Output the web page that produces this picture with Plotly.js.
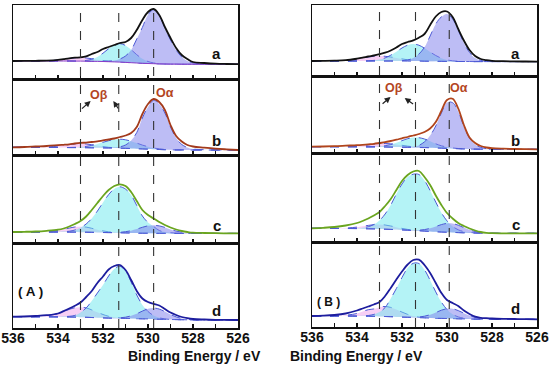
<!DOCTYPE html>
<html>
<head>
<meta charset="utf-8">
<script src="https://cdn.plot.ly/plotly-3.0.1.min.js"></script>
<style>html,body{margin:0;padding:0;background:#fff}#chart{width:550px;height:365px}</style>
</head>
<body>
<div id="chart"></div>
<script>
// Binding energy grid (eV)
const energy = [536,535.5,535,534.5,534,533.75,533.5,533.25,533,532.75,532.5,532.25,532,531.75,531.5,531.25,531,530.75,530.5,530.25,530,529.75,529.5,529.25,529,528.75,528.5,528.25,528,527.5,527,526.5,526];

// ---- Panel (A) ----
const rawAa  = [18,18.1,18.2,18.4,19.1,19.9,20.7,21.3,21.6,22.6,25,27,30,32,34,36,37,41,49,59,67,70,64,52,41,31,24,20,17,16,15.3,15,14.8];
const baseAa = [18,18,18,18,18,18,18,17.9,17.9,17.8,17.7,17.6,17.5,17.3,17.1,16.9,16.6,16.3,16,15.7,15.5,15.3,15.1,15,14.9,14.9,14.8,14.8,14.8,14.8,14.8,14.8,14.8];
const pinkAa = [18,18,18,18.2,19,19.75,20.6,21.1,21.4,21,20.3,19.35,18.5,17.8,17.3,17,16.6,16.3,16,15.7,15.5,15.3,15.1,15,14.9,14.9,14.8,14.8,14.8,14.8,14.8,14.8,14.8];
const cyanAa = [18,18,18,18,18,18,18,18,18.1,18.6,19.7,22.1,25.8,30.3,34,35.4,33.5,29.3,24.3,20.2,17.5,16.1,15.3,15,14.9,14.9,14.8,14.8,14.8,14.8,14.8,14.8,14.8];
const lavAa  = [18,18,18,18,18,18,18,17.9,17.9,17.8,17.7,17.6,17.6,17.8,18.5,20,23,29,40,51.6,64.3,69.3,63.9,50.9,39,29,22,18,16.2,15.2,14.9,14.8,14.8];

const rawAb  = [7.7,8,8.5,9,9.8,10.2,10.7,11.5,12.1,12.4,13,13.6,14.6,15.5,16.5,18,19.5,22,28,41,51,56,53,45,30,19,13.5,10,8.5,7.3,6.3,5.6,5];
const baseAb = [7.7,7.7,7.6,7.6,7.5,7.5,7.4,7.4,7.3,7.3,7.2,7.2,7.1,7,6.9,6.8,6.7,6.5,6.3,6.1,5.9,5.7,5.5,5.3,5.2,5.1,5.1,5,5,5,5,5,5];
const pinkAb = [7.7,7.7,7.65,8,8.9,9.7,10.5,11.1,11.3,11,10.3,9.4,8.5,7.7,7.3,6.9,6.7,6.5,6.3,6.1,5.9,5.7,5.5,5.3,5.2,5.1,5.1,5,5,5,5,5,5];
const cyanAb = [7.7,7.7,7.6,7.6,7.5,7.5,7.5,7.7,8,8.6,9.6,11,12.7,14.3,15.4,15.8,15.2,13.8,11.9,9.9,8.3,7,6.2,5.6,5.3,5.1,5.1,5,5,5,5,5,5];
const lavAb  = [7.7,7.7,7.6,7.6,7.5,7.5,7.4,7.4,7.3,7.3,7.2,7.2,7.1,7.1,7.4,8.2,10,14.5,22.5,37,48,54.7,51,42,28,17,10.5,7.5,6,5.3,5.1,5,5];

const rawAc  = [11,11.2,11.5,12.2,13.3,14.5,16.5,19,22,26.5,33,40,47,53,57,58.7,57,51,42,33,28,24.5,21,18,15.5,13.5,12,11,10.3,10,9.8,9.7,9.6];
const baseAc = [11,11,11,11,11,11,10.9,10.9,10.8,10.8,10.7,10.6,10.5,10.4,10.3,10.2,10.1,10,9.9,9.8,9.8,9.7,9.7,9.7,9.6,9.6,9.6,9.6,9.6,9.6,9.6,9.6,9.6];
const pinkAc = [11,11,11,11.3,12.6,13.75,14.9,16,16.3,15.9,14.7,13.35,12.1,11.2,10.6,10.3,10.1,10,9.9,9.8,9.8,9.7,9.7,9.7,9.6,9.6,9.6,9.6,9.6,9.6,9.6,9.6,9.6];
const cyanAc = [11,11,11,11,11.1,11.4,11.8,13,15.2,19,24.5,31.9,40.4,48.4,54.1,56.2,53.9,48,37.5,27,20.5,16.5,12.5,11,10.3,9.9,9.7,9.6,9.6,9.6,9.6,9.6,9.6];
const lavAc  = [11,11,11,11,11,11,10.9,10.9,10.8,10.8,10.7,10.6,10.5,10.4,10.5,10.7,11.3,12.3,13.9,15.7,17.2,17.7,17.1,15.6,13.6,11.9,10.8,10.1,9.8,9.6,9.6,9.6,9.6];

const rawAd  = [11.3,11.5,12,12.8,14.5,16.9,19.5,22.3,25.5,31,37,45,51.5,58.5,62,63,58,48,37,29.5,26,24.2,22.5,19,15.5,13,11,9.8,9,8.5,8.2,8.1,8];
const baseAd = [11.3,11.3,11.2,11.2,11.1,11.1,11,10.9,10.8,10.7,10.5,10.3,10.1,9.9,9.8,9.7,9.6,9.5,9.3,9.2,9.1,9,8.8,8.7,8.5,8.4,8.3,8.2,8.1,8.1,8,8,8];
const pinkAd = [11.3,11.3,11.3,12.1,14.5,16.5,18.6,20.25,20.8,20.05,18.1,15.7,13.5,11.7,10.7,10.1,9.7,9.5,9.3,9.2,9.1,9,8.8,8.7,8.5,8.4,8.3,8.2,8.1,8.1,8,8,8];
const cyanAd = [11.3,11.3,11.2,11.2,11.1,11.4,11.7,12.6,15.5,20,27,35,43,52,59.1,61.7,57,46,33,23,16.5,12.5,10.2,9.1,8.6,8.4,8.3,8.2,8.1,8.1,8,8,8];
const lavAd  = [11.3,11.3,11.2,11.2,11.1,11.1,11,10.9,10.8,10.7,10.5,10.3,10.1,9.9,9.9,10.2,10.8,12.2,14.3,16.9,19.2,20,18.9,16.4,13.5,11.1,9.5,8.7,8.2,8.1,8,8,8];

// ---- Panel (B) ----
const rawBa  = [15,15.1,15.3,15.8,17.3,18.3,19.5,20.5,21.8,23.3,25.5,28.5,32,34,35.6,38.3,42,51,59.5,64,64.5,59,47,35.5,26,20,17,15.8,15.2,14.8,14.6,14.5,14.4];
const baseBa = [15,15,15,15,15,15,15,15,15,15,15,15,15,14.9,14.9,14.9,14.8,14.8,14.7,14.7,14.6,14.6,14.5,14.5,14.5,14.4,14.4,14.4,14.4,14.4,14.4,14.4,14.4];
const pinkBa = [15,15,15.2,15.7,17.1,18.1,19,19.7,20,19.7,19,18.1,17.1,16.2,15.6,15.3,15,14.9,14.7,14.7,14.6,14.6,14.5,14.5,14.5,14.4,14.4,14.4,14.4,14.4,14.4,14.4,14.4];
const cyanBa = [15,15,15,15,15,15,15.2,15.6,16.5,18.1,20.8,24.2,28,30.8,31.9,30.8,27.8,24,20.5,17.8,16.1,15.2,14.7,14.5,14.5,14.4,14.4,14.4,14.4,14.4,14.4,14.4,14.4];
const lavBa  = [15,15,15,15,15,15,15,15,15,15,15,15,15.35,16,17.9,21.9,28.8,40,52,59.1,62,57,45.7,33.2,23.6,18,15.6,14.7,14.5,14.4,14.4,14.4,14.4];

const rawBb  = [6.3,6.5,6.8,7.3,7.8,8.2,8.7,9.2,10,10.8,12,13.3,14.7,16,17.5,19,21,24.5,31,42,53,54.3,44.5,28,15.5,10,7,5.5,4.8,4.3,4,3.8,3.7];
const baseBb = [6.3,6.3,6.3,6.2,6.2,6.2,6.1,6.1,6,6,5.9,5.9,5.8,5.7,5.6,5.5,5.4,5.3,5.1,4.9,4.7,4.5,4.3,4.1,4,3.9,3.8,3.8,3.7,3.7,3.7,3.7,3.7];
const pinkBb = [6.3,6.3,6.3,6.33,6.84,7.39,8,8.77,9.27,9.5,9.17,8.57,7.7,6.89,6.24,5.8,5.53,5.3,5.1,4.9,4.7,4.5,4.3,4.1,4,3.9,3.8,3.8,3.7,3.7,3.7,3.7,3.7];
const cyanBb = [6.3,6.3,6.3,6.2,6.2,6.2,6.2,6.3,6.6,7.3,8.4,10.3,12.35,14.3,15.4,15.3,14,11.85,9.2,7.2,6,5.1,4.5,4.2,4,3.9,3.8,3.8,3.7,3.7,3.7,3.7,3.7];
const lavBb  = [6.3,6.3,6.3,6.2,6.2,6.2,6.1,6.1,6,6,5.9,5.9,5.8,5.85,6.24,7.6,11.2,17.5,27,40,50.5,50.3,41.6,26.5,15,8.5,5.6,4.4,3.85,3.7,3.7,3.7,3.7];

const rawBc  = [13.7,14.2,15,16.5,19,21,23.5,26.5,30,36,43,52,61,67,70.5,71,65,57,46.5,37,29,23.5,19,16,13.5,11.5,10,9.2,8.8,8.7,8.7,8.7,8.7];
const baseBc = [13.7,13.7,13.6,13.5,13.4,13.3,13.2,13.1,13,12.8,12.6,12.4,12.1,11.8,11.5,11.2,10.9,10.6,10.3,10,9.8,9.6,9.4,9.2,9.1,9,8.9,8.8,8.7,8.7,8.7,8.7,8.7];
const pinkBc = [13.7,13.7,13.66,13.9,14.9,15.75,16.6,17.3,17.5,17,16,14.85,13.6,12.6,11.9,11.36,10.96,10.6,10.3,10,9.8,9.6,9.4,9.2,9.1,9,8.9,8.8,8.7,8.7,8.7,8.7,8.7];
const cyanBc = [13.7,13.7,13.6,13.6,13.8,14.2,15.3,17.5,21.5,28,37,48,58,65,67.8,67.5,61.5,51.4,39.9,29.3,21.1,15.5,12.2,10.4,9.56,9.17,8.95,8.8,8.7,8.7,8.7,8.7,8.7];
const lavBc  = [13.7,13.7,13.6,13.5,13.4,13.3,13.2,13.1,13,12.8,12.6,12.4,12.1,11.86,11.7,11.8,12.4,13.65,15.5,17.4,18.6,18.4,16.8,14.4,12.15,10.5,9.5,9,8.75,8.7,8.7,8.7,8.7];

const rawBd  = [11,11.3,12,13.5,16.5,18.5,20.5,22.5,25,31,39,47.5,55.5,62.5,67,67.3,62,54,44,34,27,24,21,16.5,13,10.3,9.2,8.8,8.5,8.2,8,7.8,7.7];
const baseBd = [11,11,11,11,10.9,10.9,10.8,10.7,10.6,10.5,10.3,10.1,9.9,9.7,9.5,9.3,9.1,8.9,8.7,8.6,8.5,8.4,8.2,8.1,8,7.9,7.9,7.8,7.8,7.7,7.7,7.7,7.7];
const pinkBd = [11,11,11.2,11.8,13.5,15.5,17.3,18.05,19.86,20.5,19.56,17.45,14.9,12.62,10.96,9.93,9.33,8.97,8.7,8.6,8.5,8.4,8.2,8.1,8,7.9,7.9,7.8,7.8,7.7,7.7,7.7,7.7];
const cyanBd = [11,11,11,11,10.9,11.14,11.5,12.6,14.9,19.5,28.5,38.5,49.5,59,63.7,63.5,57.2,46.7,35.1,24.9,17.5,12.7,10.1,8.8,8.24,7.9,7.9,7.8,7.8,7.7,7.7,7.7,7.7];
const lavBd  = [11,11,11,11,10.9,10.9,10.8,10.7,10.6,10.5,10.3,10.1,9.9,9.77,9.74,10,10.8,12.3,14.45,16.8,18.3,18.2,16.4,13.85,11.4,9.57,8.6,8.04,7.87,7.7,7.7,7.7,7.7];

// Reference peak positions (dashed lines), eV
const linesA = [533.0, 531.3, 529.75];
const linesB = [533.0, 531.4, 529.9];

const panelLetters = ['a','b','c','d'];
const xTickVals = [536,534,532,530,528,526];
const xTickLabels = ['536','534','532','530','528','526'];

// ---------- drawing ----------
const FONT = 'Liberation Sans, Arial, Helvetica, sans-serif';
const OUTLINE = '#4d5ad6';
const PINK = 'rgba(236,140,230,0.42)';
const CYAN = 'rgba(105,232,238,0.5)';
const LAV  = 'rgba(128,128,236,0.52)';

const panels = [
  {raw: rawAa, base: baseAa, pink: pinkAa, cyan: cyanAa, lav: lavAa, color: '#111111', baseColor: '#8a3cc8', baseDash: 'solid'},
  {raw: rawAb, base: baseAb, pink: pinkAb, cyan: cyanAb, lav: lavAb, color: '#a33a1c'},
  {raw: rawAc, base: baseAc, pink: pinkAc, cyan: cyanAc, lav: lavAc, color: '#6aa51f'},
  {raw: rawAd, base: baseAd, pink: pinkAd, cyan: cyanAd, lav: lavAd, color: '#1d1d9e'},
  {raw: rawBa, base: baseBa, pink: pinkBa, cyan: cyanBa, lav: lavBa, color: '#111111'},
  {raw: rawBb, base: baseBb, pink: pinkBb, cyan: cyanBb, lav: lavBb, color: '#b0441c'},
  {raw: rawBc, base: baseBc, pink: pinkBc, cyan: cyanBc, lav: lavBc, color: '#6aa51f'},
  {raw: rawBd, base: baseBd, pink: pinkBd, cyan: cyanBd, lav: lavBd, color: '#1d1d9e'}
];

// panel boxes in pixels: [top, bottom]
const W = 550, H = 365;
const boxesA = [[5,79],[79,155],[155,243],[243,328]];
const boxesB = [[5,76],[76,153],[153,242],[242,327]];
const colA = [13, 238], colB = [312, 537];

const traces = [];
const layout = {
  width: W, height: H,
  margin: {l:0, r:0, t:0, b:0},
  paper_bgcolor: '#fff', plot_bgcolor: 'rgba(0,0,0,0)',
  showlegend: false,
  font: {family: FONT, color: '#111'},
  annotations: [], shapes: []
};

panels.forEach((p, i) => {
  const n = i + 1;
  const xs = n === 1 ? 'x' : 'x' + n;
  const ys = n === 1 ? 'y' : 'y' + n;
  const isA = i < 4;
  const box = isA ? boxesA[i] : boxesB[i - 4];
  const col = isA ? colA : colB;
  const hgt = box[1] - box[0];

  [[p.pink, PINK], [p.cyan, CYAN], [p.lav, LAV]].forEach(([arr, fc]) => {
    traces.push({x: energy, y: p.base, xaxis: xs, yaxis: ys, mode: 'lines',
      line: {width: 0, shape: 'spline', smoothing: 1}, hoverinfo: 'skip'});
    traces.push({x: energy, y: arr, xaxis: xs, yaxis: ys, mode: 'lines', fill: 'tonexty',
      fillcolor: fc, line: {color: OUTLINE, width: 1, dash: 'dash', shape: 'spline', smoothing: 1}});
  });
  traces.push({x: energy, y: p.base, xaxis: xs, yaxis: ys, mode: 'lines',
    line: {color: p.baseColor || OUTLINE, width: 1, dash: p.baseDash || 'dash', shape: 'spline'}});
  traces.push({x: energy, y: p.raw, xaxis: xs, yaxis: ys, mode: 'lines',
    line: {color: p.color, width: 1.8, shape: 'spline', smoothing: 1}});

  const bottom = (i % 4) === 3;
  layout[n === 1 ? 'xaxis' : 'xaxis' + n] = {
    domain: [col[0] / W, col[1] / W], anchor: ys,
    range: [536, 526], showline: true, mirror: true, linecolor: '#111', linewidth: 1.5,
    ticks: 'inside', ticklen: 4, tickwidth: 1.2, tickcolor: '#111',
    tickmode: 'array', tickvals: xTickVals, ticktext: xTickLabels,
    minor: {dtick: 1, tick0: 526, ticks: 'inside', ticklen: 4, tickwidth: 1.2, tickcolor: '#111', showgrid: false},
    showticklabels: bottom, ticklabelstandoff: -3,
    tickfont: {family: FONT, size: 14, color: '#111', weight: 'bold'},
    showgrid: false, zeroline: false, fixedrange: true
  };
  layout[n === 1 ? 'yaxis' : 'yaxis' + n] = {
    domain: [1 - box[1] / H, 1 - box[0] / H], anchor: xs,
    range: [0, hgt], showline: true, mirror: true, linecolor: '#111', linewidth: 1.5,
    ticks: '', showticklabels: false, showgrid: false, zeroline: false, fixedrange: true
  };

  // panel letter
  const letterY = isA ? [25.7, 15, 17, 18][i] : [22.7, 13, 17, 18.7][i - 4];
  layout.annotations.push({xref: xs, yref: ys, x: 526.95, y: letterY, text: panelLetters[i % 4],
    showarrow: false, font: {family: FONT, size: 15, color: '#111', weight: 'bold'}});
});

// dashed reference lines through all panels of each column
linesA.forEach(e => layout.shapes.push({type: 'line', xref: 'x', yref: 'paper', x0: e, x1: e,
  y0: 1 - 328 / H, y1: 1 - 5 / H, line: {color: '#333', width: 1.1, dash: 'dash'}, layer: 'above'}));
linesB.forEach(e => layout.shapes.push({type: 'line', xref: 'x5', yref: 'paper', x0: e, x1: e,
  y0: 1 - 327 / H, y1: 1 - 5 / H, line: {color: '#333', width: 1.1, dash: 'dash'}, layer: 'above'}));

// O beta / O alpha labels and arrows
const labelColor = '#b4461f';
const lblFont = {family: FONT, size: 12.5, color: labelColor, weight: 'bold'};
layout.annotations.push(
  {xref: 'x2', yref: 'y2', x: 532.16, y: 60, text: 'Oβ', showarrow: false, font: lblFont},
  {xref: 'x2', yref: 'y2', x: 529.24, y: 62, text: 'Oα', showarrow: false, font: lblFont},
  {xref: 'x6', yref: 'y6', x: 532.36, y: 65.5, text: 'Oβ', showarrow: false, font: lblFont},
  {xref: 'x6', yref: 'y6', x: 529.47, y: 65.5, text: 'Oα', showarrow: false, font: lblFont}
);
const arrows = [
  ['x2','y2', 532.55, 54, 533.0, 45], ['x2','y2', 531.54, 54, 531.28, 45],
  ['x6','y6', 532.51, 56, 532.93, 48], ['x6','y6', 531.88, 55, 531.44, 48]
];
arrows.forEach(([xr, yr, hx, hy, tx, ty]) => layout.annotations.push({
  xref: xr, yref: yr, axref: xr, ayref: yr, x: hx, y: hy, ax: tx, ay: ty, text: '',
  showarrow: true, arrowhead: 2, arrowsize: 1, arrowwidth: 1.2, arrowcolor: '#222'}));

// (A) / (B)
layout.annotations.push(
  {xref: 'x4', yref: 'y4', x: 535.24, y: 36.3, text: '( A )', showarrow: false,
   font: {family: FONT, size: 13.5, color: '#111', weight: 'bold'}},
  {xref: 'x8', yref: 'y8', x: 535.27, y: 25.3, text: '( B )', showarrow: false,
   font: {family: FONT, size: 12, color: '#111', weight: 'bold'}}
);

// axis titles
[[colA, 'Binding Energy / eV'], [colB, 'Binding Energy / eV']].forEach(([c, t]) =>
  layout.annotations.push({xref: 'paper', yref: 'paper', x: (c[0] + c[1]) / 2 / W, y: 1 - 355.5 / H,
    yanchor: 'middle', text: t, showarrow: false, font: {family: FONT, size: 14, color: '#111', weight: 'bold'}}));

Plotly.newPlot('chart', traces, layout, {displayModeBar: false, staticPlot: true});
</script>
</body>
</html>
